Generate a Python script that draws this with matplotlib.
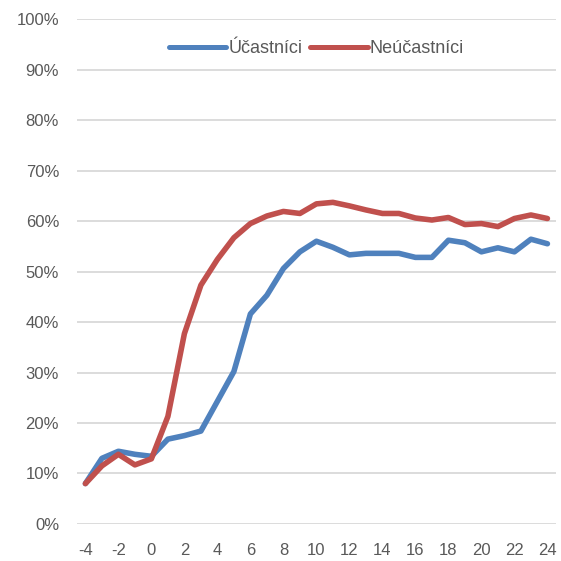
import matplotlib
matplotlib.use("Agg")
import matplotlib.pyplot as plt
from matplotlib.ticker import FuncFormatter

x = list(range(-4, 25))
ucastnici = [8.0, 13.0, 14.4, 13.8, 13.4, 16.8, 17.5, 18.4, 24.3, 30.2, 41.6, 45.3, 50.6, 53.9, 56.0,
             54.8, 53.3, 53.6, 53.6, 53.6, 52.8, 52.8, 56.2, 55.7, 53.9, 54.7, 53.9, 56.4, 55.5]
neucastnici = [8.0, 11.5, 13.8, 11.7, 12.9, 21.3, 37.7, 47.3, 52.4, 56.7, 59.5, 61.0, 61.9, 61.5, 63.4,
               63.7, 63.0, 62.2, 61.5, 61.5, 60.6, 60.2, 60.7, 59.3, 59.5, 58.9, 60.5, 61.2, 60.5]
labels = ["Účastníci", "Neúčastníci"]
xticks = list(range(-4, 25, 2))
yticks = list(range(0, 101, 10))

plt.rcParams['font.family'] = ['Liberation Sans', 'DejaVu Sans']
plt.rcParams['axes.unicode_minus'] = False
fig = plt.figure(figsize=(5.61, 5.61), dpi=100)
ax = fig.add_axes([0.1375, 0.066, 0.853, 0.9])

ax.plot(x, ucastnici, color="#4F81BD", lw=4.0, solid_capstyle="round", solid_joinstyle="round", label=labels[0], zorder=3)
ax.plot(x, neucastnici, color="#C0504D", lw=4.0, solid_capstyle="round", solid_joinstyle="round", label=labels[1], zorder=3)

ax.set_xlim(-4.5, 24.5)
ax.set_ylim(0, 100)
ax.set_xticks(xticks)
ax.set_yticks(yticks)
ax.yaxis.set_major_formatter(FuncFormatter(lambda v, p: f"{int(v)}%"))
ax.grid(axis="y", color="#D9D9D9", lw=1.3, zorder=0)
for s in ax.spines.values():
    s.set_visible(False)
ax.tick_params(axis="both", length=0, labelsize=12, colors="#595959")
ax.tick_params(axis="y", pad=13)
ax.tick_params(axis="x", pad=14)

leg = ax.legend(loc="upper center", bbox_to_anchor=(0.50, 0.99), ncol=2, frameon=False,
                fontsize=13, handlelength=3.2, handletextpad=0.1, columnspacing=0.45)
for line in leg.get_lines():
    line.set_linewidth(3.6)
for t in leg.get_texts():
    t.set_color("#595959")

fig.savefig("out.png", dpi=100)
